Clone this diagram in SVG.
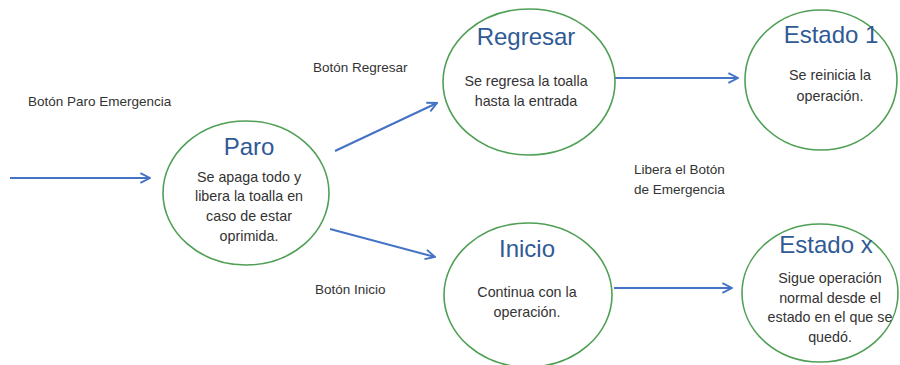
<svg xmlns="http://www.w3.org/2000/svg" width="900" height="365" viewBox="0 0 900 365">
<style>
.node ellipse{fill:#fff;stroke:#4f9f55;stroke-width:1.6}
.title{font-family:"Liberation Sans",Arial,sans-serif;font-size:24px;fill:#2f5a96;text-anchor:middle}
.body{font-family:"Liberation Sans",Arial,sans-serif;font-size:14.3px;fill:#333;text-anchor:middle}
.lbl{font-family:"Liberation Sans",Arial,sans-serif;font-size:13.5px;fill:#333}
.conn line{stroke:#4472c4;stroke-width:2;marker-end:url(#arr)}
</style>
<defs>
<marker id="arr" viewBox="0 0 10 10" refX="9" refY="5" markerWidth="6" markerHeight="6" markerUnits="strokeWidth" orient="auto">
<polyline points="1,1 9,5 1,9" fill="none" stroke="#4472c4" stroke-width="1.6"/>
</marker>
</defs>
<rect width="900" height="365" fill="#fff"/>
<g id="connectors" class="conn">
<line x1="10" y1="178" x2="150" y2="178"/>
<line x1="335" y1="151" x2="437" y2="103"/>
<line x1="330" y1="229" x2="435" y2="257"/>
<line x1="614" y1="78" x2="738" y2="78"/>
<line x1="614" y1="288" x2="732" y2="288"/>
</g>
<g id="labels">
<text class="lbl" x="28" y="106">Botón Paro Emergencia</text>
<text class="lbl" x="313" y="72">Botón Regresar</text>
<text class="lbl" x="315" y="294">Botón Inicio</text>
<text class="lbl" x="634" y="174">Libera el Botón</text>
<text class="lbl" x="634" y="194">de Emergencia</text>
</g>
<g id="paro" class="node">
<ellipse cx="246" cy="193" rx="83" ry="72"/>
<text class="title" x="249" y="155">Paro</text>
<text class="body" x="249" y="182">Se apaga todo y</text>
<text class="body" x="249" y="201">libera la toalla en</text>
<text class="body" x="249" y="221">caso de estar</text>
<text class="body" x="249" y="241">oprimida.</text>
</g>
<g id="regresar" class="node">
<ellipse cx="529" cy="82" rx="86" ry="73"/>
<text class="title" x="526" y="45">Regresar</text>
<text class="body" x="526" y="86">Se regresa la toalla</text>
<text class="body" x="526" y="106">hasta la entrada</text>
</g>
<g id="estado1" class="node">
<ellipse cx="821" cy="80" rx="76" ry="70"/>
<text class="title" x="831" y="43">Estado 1</text>
<text class="body" x="830" y="80">Se reinicia la</text>
<text class="body" x="830" y="101">operación.</text>
</g>
<g id="inicio" class="node">
<ellipse cx="528" cy="295" rx="84" ry="72"/>
<text class="title" x="527" y="257">Inicio</text>
<text class="body" x="527" y="297">Continua con la</text>
<text class="body" x="527" y="317">operación.</text>
</g>
<g id="estadox" class="node">
<ellipse cx="820" cy="293" rx="78" ry="69"/>
<text class="title" x="826" y="253">Estado x</text>
<text class="body" x="830" y="283">Sigue operación</text>
<text class="body" x="830" y="303">normal desde el</text>
<text class="body" x="830" y="322">estado en el que se</text>
<text class="body" x="830" y="342">quedó.</text>
</g>
</svg>
